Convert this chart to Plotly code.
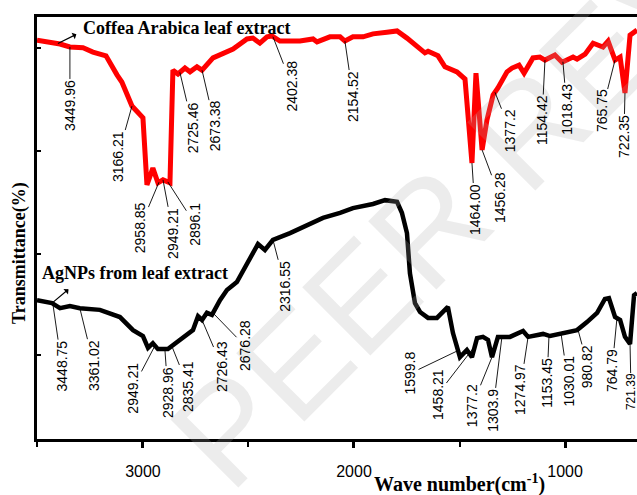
import numpy as np
import plotly.graph_objects as go

# ---------------- data ----------------
red_wn = [3502, 3441, 3393, 3346, 3284, 3237, 3175, 3123, 3100, 3052, 3000, 2981, 2953, 2929, 2905,
          2872, 2858, 2834, 2801, 2777, 2744, 2720, 2668, 2573, 2507, 2479, 2446, 2412, 2389, 2351,
          2256, 2194, 2175, 2114, 2066, 2043, 2005, 1957, 1910, 1844, 1796, 1749, 1702, 1664, 1649,
          1602, 1569, 1512, 1474, 1441, 1422, 1393, 1370, 1341, 1318, 1275, 1251, 1218, 1194, 1152,
          1119, 1095, 1048, 1014, 962, 943, 905, 867, 820, 796, 763, 739, 716, 692, 659]
red_T = [94.5, 94.1, 93.6, 92.9, 92.7, 91.7, 90.8, 86.3, 84.6, 78.9, 76.1, 60.2, 64.2, 60.7, 61.4,
         60.7, 87.4, 86.5, 87.9, 87.0, 88.2, 87.4, 90.3, 92.4, 94.8, 95.0, 93.8, 95.3, 95.5, 94.3,
         94.3, 94.8, 94.1, 95.3, 95.3, 94.3, 95.3, 95.3, 96.0, 96.4, 96.7, 95.0, 92.9, 91.5, 91.9,
         90.8, 88.2, 87.0, 85.3, 65.4, 86.7, 68.5, 75.6, 81.5, 83.2, 87.0, 87.9, 88.6, 86.7, 90.3,
         90.5, 89.8, 91.0, 89.3, 90.5, 90.0, 91.2, 93.8, 92.9, 94.3, 89.8, 90.5, 82.0, 95.7, 96.9]

blk_wn = [3502, 3431, 3393, 3346, 3299, 3204, 3109, 3047, 3000, 2976, 2953, 2929, 2882, 2810, 2763,
          2739, 2720, 2697, 2673, 2635, 2602, 2555, 2507, 2455, 2422, 2384, 2303, 2194, 2147, 2066,
          2005, 1910, 1853, 1796, 1773, 1749, 1735, 1711, 1687, 1649, 1607, 1555, 1531, 1498, 1465,
          1441, 1417, 1389, 1365, 1346, 1318, 1261, 1199, 1175, 1104, 1071, 1010, 943, 896, 848,
          811, 792, 763, 739, 716, 692, 673, 659]
blk_T = [32.9, 32.2, 31.0, 31.5, 31.0, 30.6, 28.9, 25.8, 24.4, 21.6, 22.7, 21.3, 21.3, 23.9, 25.8,
         29.1, 28.2, 29.9, 29.4, 32.9, 35.3, 37.2, 41.7, 46.2, 44.8, 47.2, 48.8, 51.2, 52.4, 53.6,
         54.7, 55.7, 56.6, 56.2, 53.6, 48.8, 39.3, 32.2, 30.1, 28.7, 28.7, 31.3, 25.1, 19.4, 21.1,
         19.4, 23.9, 24.2, 23.5, 19.4, 24.2, 24.2, 25.6, 24.2, 24.9, 24.4, 25.1, 25.8, 27.7, 29.9,
         33.2, 33.4, 28.9, 28.2, 24.2, 22.5, 34.1, 34.6]

red_labels = ["3449.96", "3166.21", "2958.85", "2949.21", "2896.1", "2725.46", "2673.38", "2402.38",
              "2154.52", "1464.00", "1456.28", "1377.2", "1154.42", "1018.43", "765.75", "722.35"]
red_label_at = [3346, 3052, 2924, 2905, 2882, 2825, 2720, 2384, 2043, 1441, 1393, 1332, 1095, 1010, 763, 716]
red_label_off = [(0, 58), (-14, 50), (-19, 45), (10, 53), (27, 42), (13, 55), (13, 56), (19, 49),
                 (8, 55), (3, 46), (18, 48), (15, 38), (-3, 60), (4, 47), (-13, 51), (-1, 43)]

blk_labels = ["3448.75", "3361.02", "2949.21", "2928.96", "2835.41", "2726.43", "2676.28", "2316.55",
              "1599.8", "1458.21", "1377.2", "1303.9", "1274.97", "1153.45", "1030.01", "980.82",
              "764.79", "721.39"]
blk_label_at = [3427, 3299, 2943, 2896, 2863, 2720, 2668, 2384, 1507, 1427, 1346, 1299, 1175, 1076,
                1019, 939, 754, 692]
blk_label_off = [(9, 62), (14, 57), (-22, 42), (3, 43), (16, 40), (20, 47), (32, 33), (12, 46),
                 (-48, 23), (-37, 48), (-20, 49), (-9, 73), (-8, 53), (-2, 47), (7, 48), (10, 37),
                 (-5, 52), (1, 48)]

x_ticks = [3000, 2000, 1000]
x_minor = [3500, 2500, 1500]
y_ticks = [19.9, 43.8, 68.2, 92.7]


def interp(series_x, series_y, at):
    xs = np.array(series_x)[::-1]
    ys = np.array(series_y)[::-1]
    return float(np.interp(at, xs, ys))


# plot area: 600 x 422 px
PW, PH = 600, 422
L, T, B = 37, 17, 56


def px(xw):
    return (xw - L) / PW


def py(yw):
    return (T + PH - yw) / PH


fig = go.Figure()
fig.add_trace(go.Scatter(x=red_wn, y=red_T, mode="lines",
                         line=dict(color="#ff0000", width=5), showlegend=False))
fig.add_trace(go.Scatter(x=blk_wn, y=blk_T, mode="lines",
                         line=dict(color="#000000", width=4.5), showlegend=False))

ann = []
# faint watermark
ann.append(dict(text="PEER REVIEW", xref="paper", yref="paper", x=px(540), y=py(118),
                xanchor="center", yanchor="middle", showarrow=False, textangle=-45,
                font=dict(family="Liberation Sans", size=140, color="rgba(170,170,170,0.22)")))

lab_font = dict(family="Liberation Sans", size=14, color="black")
for txt, at, (ax, ay) in zip(red_labels, red_label_at, red_label_off):
    ann.append(dict(text=txt, x=at, y=interp(red_wn, red_T, at), xref="x", yref="y",
                    ax=ax, ay=ay, textangle=-90, showarrow=True, arrowhead=0, arrowwidth=0.9,
                    arrowcolor="black", font=lab_font, borderpad=0, standoff=0))
for txt, at, (ax, ay) in zip(blk_labels, blk_label_at, blk_label_off):
    f = dict(lab_font)
    if txt == "721.39":
        f["size"] = 12
    ann.append(dict(text=txt, x=at, y=interp(blk_wn, blk_T, at), xref="x", yref="y",
                    ax=ax, ay=ay, textangle=-90, showarrow=True, arrowhead=0, arrowwidth=0.9,
                    arrowcolor="black", font=f, borderpad=0, standoff=0))

title_font = dict(family="Liberation Serif", size=18, color="black")
# series names with pointing arrows
ann.append(dict(text="<b>Coffea Arabica leaf extract</b>", xref="paper", yref="paper",
                x=px(186), y=py(28), xanchor="center", yanchor="middle", showarrow=False,
                font=title_font))
ann.append(dict(text="", x=3403, y=interp(red_wn, red_T, 3403), xref="x", yref="y", ax=20, ay=-10,
                showarrow=True, arrowhead=2, arrowside="start", arrowsize=1, arrowwidth=1.2,
                arrowcolor="black"))
ann.append(dict(text="<b>AgNPs from leaf extract</b>", xref="paper", yref="paper",
                x=px(135), y=py(273), xanchor="center", yanchor="middle", showarrow=False,
                font=title_font))
ann.append(dict(text="", x=3431, y=interp(blk_wn, blk_T, 3431), xref="x", yref="y", ax=18, ay=-15,
                showarrow=True, arrowhead=2, arrowside="start", arrowsize=1, arrowwidth=1.2,
                arrowcolor="black"))
# axis titles
ann.append(dict(text="<b>Transmittance(%)</b>", xref="paper", yref="paper", x=px(19), y=py(253),
                xanchor="center", yanchor="middle", textangle=-90, showarrow=False,
                font=dict(family="Liberation Serif", size=18, color="black")))
ann.append(dict(text="<b>Wave number(cm<sup>-1</sup>)</b>", xref="paper", yref="paper",
                x=px(459), y=py(483), xanchor="center", yanchor="middle", showarrow=False,
                font=dict(family="Liberation Serif", size=20, color="black")))

fig.update_layout(
    width=L + PW, height=T + PH + B,
    margin=dict(l=L, r=0, t=T, b=B, autoexpand=False),
    paper_bgcolor="white", plot_bgcolor="white",
    annotations=ann,
    xaxis=dict(range=[3502, 659], showgrid=False, zeroline=False, showline=True, linewidth=3,
               linecolor="black", mirror=True, ticks="outside", ticklen=6, tickwidth=3,
               tickcolor="black", tickvals=x_ticks, ticktext=[str(v) for v in x_ticks],
               ticklabelstandoff=10, automargin=False,
               tickfont=dict(family="Liberation Sans", size=16, color="black"),
               minor=dict(tickvals=x_minor, ticks="outside", ticklen=5, tickwidth=2,
                          tickcolor="black", showgrid=False)),
    yaxis=dict(range=[0, 100], showgrid=False, zeroline=False, showline=True, linewidth=3,
               linecolor="black", mirror=False, ticks="inside", ticklen=4, tickwidth=2,
               tickcolor="black", tickvals=y_ticks, showticklabels=False, automargin=False),
)

# the page body has a default 8 px margin; remove it so the figure fills the window
fig.write_html("out.html", config={"displayModeBar": False},
               post_script="document.body.style.margin='0';document.body.style.overflow='hidden';")
